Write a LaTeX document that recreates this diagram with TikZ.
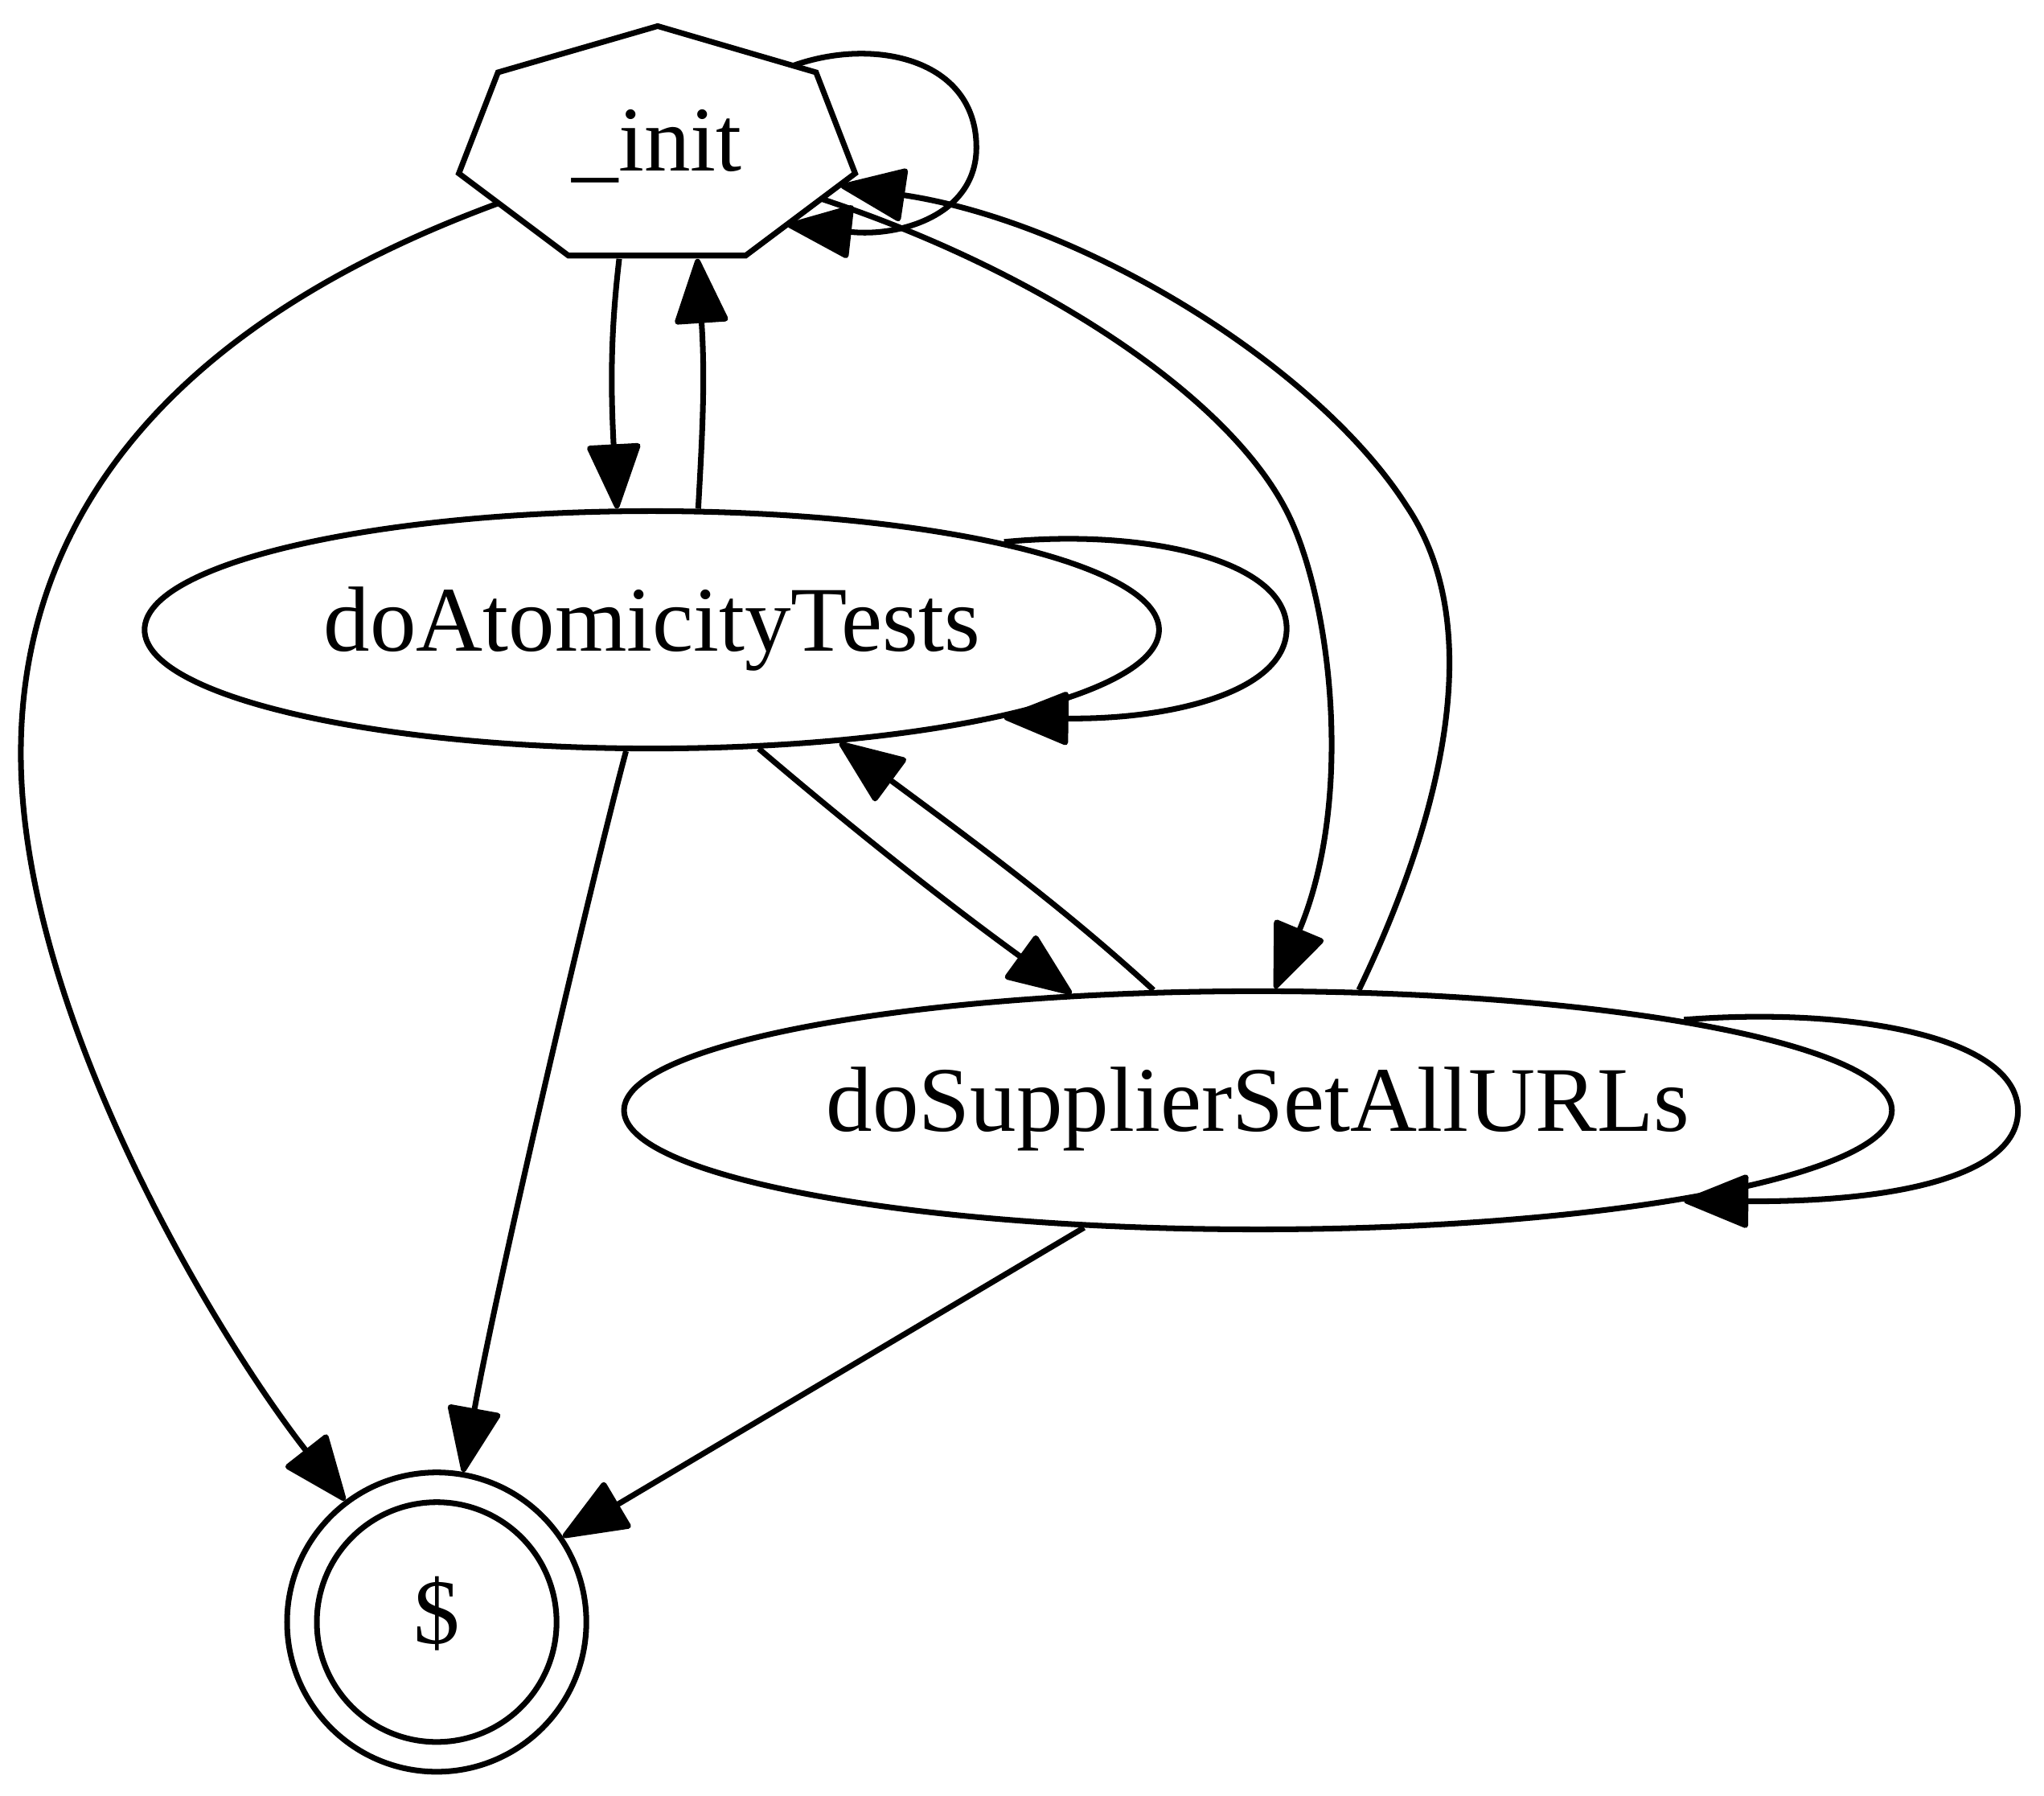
\documentclass[tikz,border=0pt]{standalone}
\usepackage{fontspec}
\setmainfont{Liberation Serif}
\usetikzlibrary{arrows.meta,shapes.geometric,calc}
\begin{document}
\begin{tikzpicture}[x=0.016212cm, y=-0.016212cm, line width=2pt,
  stt/.style={font=\fontsize{32.7}{39}\selectfont, inner sep=0pt, text height=22.2pt, text depth=7.2pt},
  oval/.style={stt, draw, ellipse},
  arr/.style={-{Triangle[length=0.86cm, width=0.68cm, round]}}]
  \useasboundingbox (0,0) rectangle (1568,1377);
  % 노드
  \node[stt] (init) at (504,114.5) {\_init};
  \draw (504.5,20) -- (382,55.5) -- (352,133) -- (436,196) -- (572,196) -- (656,133) -- (626,55.5) -- cycle;
  \node[oval, minimum width=12.61cm, minimum height=2.95cm] (atom) at (500,483) {doAtomicityTests};
  \node[oval, minimum width=15.76cm, minimum height=2.96cm] (supp) at (965,851.5) {doSupplierSetAllURLs};
  \node[stt, draw, circle, minimum size=3.72cm] (fin) at (335,1244) {\$};
  \draw (fin.center) circle[radius=1.49cm];
  % _init 에서 나가는 선
  \draw[arr] ($(init)+(104,-64)$) .. controls (670,28) and (749,45) .. (749,113) .. controls (749,165) and (690,182) .. ($(init)+(100,58)$);
  \draw[arr] ($(init)+(-29,84)$) .. controls (469,250) and (468,290) .. (atom.106);
  \draw[arr] ($(init)+(126,38)$) .. controls (790,205) and (940,300) .. (987,392) .. controls (1020,456) and (1040,610) .. (supp.82);
  \draw[arr] ($(init)+(-122,41.5)$) .. controls (140,245) and (15,390) .. (16,580) .. controls (17,780) and (167,1026) .. (fin.127);
  % doAtomicityTests 에서 나가는 선
  \draw[arr] (atom.69) .. controls (539,330) and (541,290) .. ($(init)+(31,84)$);
  \draw[arr] (atom.14) .. controls (880,405) and (987,430) .. (987,482) .. controls (987,530) and (900,552) .. (atom.-14);
  \draw[arr] (atom.-48) .. controls (650,632) and (720,688) .. (supp.148.3);
  \draw[arr] (atom.-102) .. controls (455,670) and (382,981) .. (fin.80);
  % doSupplierSetAllURLs 에서 나가는 선
  \draw[arr] (supp.50.7) .. controls (1095,650) and (1148,490) .. (1079,388) .. controls (1010,280) and (830,170) .. ($(init)+(141,28)$);
  \draw[arr] (supp.131) .. controls (820,700) and (760,655) .. (atom.-31);
  \draw[arr] (supp.12) .. controls (1420,772) and (1548,795) .. (1548,852) .. controls (1548,900) and (1460,922) .. (supp.-12.6);
  \draw[arr] (supp.-146.7) -- (fin.34);
\end{tikzpicture}
\end{document}
